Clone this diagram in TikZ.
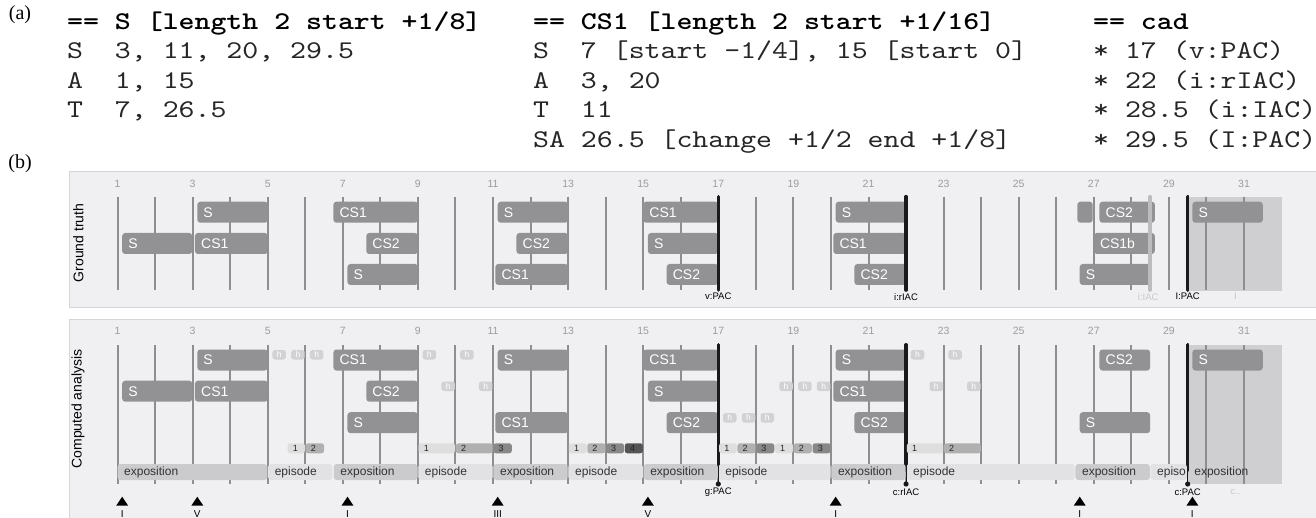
\documentclass[tikz,border=0pt]{standalone}
\usepackage{fontspec}
\setmainfont{Liberation Serif}
\newfontfamily\monof{lmmono10-regular.otf}[FakeStretch=1.19]
\newfontfamily\monob{lmmonolt10-bold.otf}[FakeStretch=1.19]
\newfontfamily\sansf{Liberation Sans}
\definecolor{panelbg}{HTML}{F0F0F2}
\definecolor{panelbd}{HTML}{D6D6D8}
\definecolor{barc}{HTML}{929294}
\definecolor{linec}{HTML}{8E8E90}
\definecolor{numc}{HTML}{9C9C9E}
\definecolor{shadec}{HTML}{CFCFD1}
\definecolor{expoc}{HTML}{CBCBCD}
\definecolor{epic}{HTML}{E2E2E4}
\definecolor{hc}{HTML}{D2D2D4}
\definecolor{nA}{HTML}{DEDEDE}
\definecolor{nB}{HTML}{B0B0B0}
\definecolor{nC}{HTML}{888888}
\definecolor{nD}{HTML}{555555}
\definecolor{cadc}{HTML}{1A1A1A}
\definecolor{lightc}{HTML}{BCBCBC}
\definecolor{faintc}{HTML}{C8C8CA}
\newcommand\mbar[5]{\fill[barc, rounded corners=3pt] (#2,#4-10.5) rectangle (#3,#4+10.5); \node[bartxt] (#1) at (#2,#4) {#5};}
\begin{document}
\begin{tikzpicture}[x=1pt,y=-1pt,
  mono/.style={font=\monof\fontsize{25.5}{28}\selectfont, inner sep=0pt, anchor=base west, text=black!85},
  monobold/.style={font=\monob\fontsize{25.5}{28}\selectfont, inner sep=0pt, anchor=base west},
  paren/.style={font=\fontsize{20}{20}\selectfont, inner sep=0pt},
  panel/.style={draw=panelbd, line width=1pt, fill=panelbg},
  vline/.style={draw=linec, line width=2pt},
  bartxt/.style={anchor=west, xshift=6pt, inner sep=0pt, text=white, font=\sansf\fontsize{14}{14}\selectfont},
  mnum/.style={inner sep=0pt, text=numc, font=\sansf\fontsize{10.5}{10.5}\selectfont},
  cadline/.style={draw=cadc, line width=3.6pt, line cap=round},
  cadlab/.style={inner sep=0pt, font=\sansf\fontsize{9.5}{9.5}\selectfont},
  htxt/.style={inner sep=0pt, text=white, font=\sansf\fontsize{8.5}{8.5}\selectfont},
  ntxt/.style={anchor=west, xshift=5pt, inner sep=0pt, text=black!85, font=\sansf\fontsize{9}{9}\selectfont},
  stxt/.style={anchor=west, xshift=6.5pt, inner sep=0pt, text=black!80, font=\sansf\fontsize{12}{12}\selectfont},
  tlab/.style={inner sep=0pt, font=\sansf\fontsize{10}{10}\selectfont},
  sidelab/.style={inner sep=0pt, rotate=90, font=\sansf\fontsize{14}{14}\selectfont}
]
\useasboundingbox[fill=white] (0,0) rectangle (1316,518);

% (a) text
\node[paren] (la) at (20,15) {(a)};
\node[paren] (lb) at (20,164) {(b)};
\node[monobold] (a1) at (67,29.5) {== S [length 2 start +1/8]};
\node[mono] (a2) at (67,59) {S~~3, 11, 20, 29.5};
\node[mono] (a3) at (67,88.5) {A~~1, 15};
\node[mono] (a4) at (67,118) {T~~7, 26.5};
\node[monobold] (b1) at (533,29.5) {== CS1 [length 2 start +1/16]};
\node[mono] (b2) at (533,59) {S~~7 [start -1/4], 15 [start 0]};
\node[mono] (b3) at (533,88.5) {A~~3, 20};
\node[mono] (b4) at (533,118) {T~~11};
\node[mono] (b5) at (533,147.5) {SA 26.5 [change +1/2 end +1/8]};
\node[monobold] (c1) at (1093,29.5) {== cad};
\node[mono] (c2) at (1093,59) {* 17 (v:PAC)};
\node[mono] (c3) at (1093,88.5) {* 22 (i:rIAC)};
\node[mono] (c4) at (1093,118) {* 28.5 (i:IAC)};
\node[mono] (c5) at (1093,147.5) {* 29.5 (I:PAC)};

% panels
\draw[panel] (69,172) rectangle (1330,308);
\draw[panel] (69,320) rectangle (1330,540);
\node[sidelab] (gt) at (78.3,243) {Ground truth};
\node[sidelab] (ca) at (78,409) {Computed analysis};

\begin{scope}[x=37.55pt, xshift=79.95pt]
% ===== Ground truth =====
\fill[shadec] (29.5,196.7) rectangle (32,291);
\foreach \m in {1,...,31} \draw[vline] (\m,196.7) -- (\m,290);
\foreach \m in {1,3,...,31} \node[mnum] (gm\m) at (\m,183.8) {\m};
\mbar{gS1}{3.125}{5}{212.2}{S}
\mbar{gS2}{1.125}{2.99}{243.5}{S}
\mbar{gC1}{3.0625}{5}{243.5}{CS1}
\mbar{gC2}{6.75}{9}{212.2}{CS1}
\mbar{gC3}{7.625}{9}{243.5}{CS2}
\mbar{gS3}{7.125}{9}{274.5}{S}
\mbar{gS4}{11.125}{13}{212.2}{S}
\mbar{gC4}{11.625}{13}{243.5}{CS2}
\mbar{gC5}{11.0625}{13}{274.5}{CS1}
\mbar{gC6}{15}{17}{212.2}{CS1}
\mbar{gS5}{15.125}{17}{243.5}{S}
\mbar{gC7}{15.625}{17}{274.5}{CS2}
\mbar{gS6}{20.125}{22}{212.2}{S}
\mbar{gC8}{20.0625}{22}{243.5}{CS1}
\mbar{gC9}{20.625}{22}{274.5}{CS2}
\mbar{gB}{26.5625}{26.97}{212.2}{}
\mbar{gC10}{27.15}{28.625}{212.2}{CS2}
\mbar{gC11}{27}{28.625}{243.5}{CS1b}
\mbar{gS7}{26.625}{28.5}{274.5}{S}
\mbar{gS8}{29.625}{31.5}{212.2}{S}
\draw[cadline, draw=lightc] (28.5,196.7) -- (28.5,290);
\draw[cadline] (17,196.7) -- (17,290);
\draw[cadline] (22,196.7) -- (22,290);
\draw[cadline] (29.5,196.7) -- (29.5,290);
\node[cadlab] (gk1) at (17,296.7) {v:PAC};
\node[cadlab] (gk2) at (22,296.7) {i:rIAC};
\node[cadlab, text=faintc] (gk3) at (28.45,296.7) {i:IAC};
\node[cadlab] (gk4) at (29.5,296.7) {I:PAC};
\node[cadlab, text=faintc] (gk5) at (30.77,296.7) {I};

% ===== Computed analysis =====
\fill[shadec] (29.5,345) rectangle (32,484.3);
\foreach \m in {1,...,31} \draw[vline] (\m,345) -- (\m,484.3);
\foreach \m in {1,3,...,31} \node[mnum] (cm\m) at (\m,331) {\m};
\foreach \m in {17,22,29.5} \draw[cadline] (\m,345) -- (\m,470);
\mbar{cS1}{3.125}{5}{360}{S}
\mbar{cS2}{1.125}{2.99}{391.2}{S}
\mbar{cC1}{3.0625}{5}{391.2}{CS1}
\mbar{cC2}{6.75}{9}{360}{CS1}
\mbar{cC3}{7.625}{9}{391.2}{CS2}
\mbar{cS3}{7.125}{9}{422.7}{S}
\mbar{cS4}{11.125}{13}{360}{S}
\mbar{cC4}{11.0625}{13}{422.7}{CS1}
\mbar{cC5}{15}{17}{360}{CS1}
\mbar{cS5}{15.125}{17}{391.2}{S}
\mbar{cC6}{15.625}{17}{422.7}{CS2}
\mbar{cS6}{20.125}{22}{360}{S}
\mbar{cC7}{20.0625}{22}{391.2}{CS1}
\mbar{cC8}{20.625}{22}{422.7}{CS2}
\mbar{cC9}{27.15}{28.5}{360}{CS2}
\mbar{cS7}{26.625}{28.5}{422.7}{S}
\mbar{cS8}{29.625}{31.5}{360}{S}
\foreach \m in {17,22,29.5} \draw[cadline] (\m,345) -- (\m,460);
% h tags
\foreach \m/\r [count=\i] in {5.125/350,5.625/350,6.125/350,9.125/350,10.125/350,22.125/350,23.125/350,
  9.625/381.5,10.625/381.5,18.625/381.5,19.125/381.5,19.625/381.5,22.625/381.5,23.625/381.5,
  17.125/413,17.625/413,18.125/413}
  {\fill[hc, rounded corners=2.5pt] (\m,\r) rectangle ++(0.36,9.5);
   \node[htxt] (h\i) at (\m+0.18,\r+4.75) {h};}
% number bars
\foreach \a/\b/\c/\t [count=\i] in {5.53/5.99/nA/1,6.01/6.5/nB/2,
  9.02/9.99/nA/1,10.01/10.99/nB/2,11.01/11.5/nC/3,
  13.02/13.49/nA/1,13.51/13.99/nB/2,14.01/14.49/nC/3,14.51/14.99/nD/4,
  17.02/17.49/nA/1,17.51/17.99/nB/2,18.01/18.49/nC/3,18.51/18.99/nA/1,19.01/19.49/nB/2,19.51/19.99/nC/3,
  22.02/22.99/nA/1,23.01/23.99/nB/2}
  {\fill[\c, rounded corners=2.5pt] (\a,443.3) rectangle (\b,453.3);
   \node[ntxt] (nb\i) at (\a,448.3) {\t};}
% section bars
\foreach \a/\b/\c/\t [count=\i] in {1/4.99/expoc/exposition,5.01/6.72/epic/episode,
  6.76/8.99/expoc/exposition,9.01/10.99/epic/episode,11.01/12.99/expoc/exposition,
  13.01/14.99/epic/episode,15.01/16.99/expoc/exposition,17.01/19.99/epic/episode,
  20.01/21.99/expoc/exposition,22.01/26.49/epic/episode,26.51/28.49/expoc/exposition}
  {\fill[\c, rounded corners=3pt] (\a,464) rectangle (\b,480);
   \node[stxt] (sb\i) at (\a,472) {\t};}
\fill[epic, rounded corners=3pt] (28.51,464) rectangle (29.48,480);
\begin{scope}
\clip (28.5,460) rectangle (29.45,484);
\node[stxt] (sb12) at (28.51,472) {episode};
\end{scope}
\node[stxt] (sb13) at (29.5,472) {exposition};
% cadence lower parts
\foreach \m in {17,22,29.5} {\draw[cadc, line width=1.1pt] (\m,460) -- (\m,484); \fill[cadc] (\m,484) circle (2.6pt);}
\node[cadlab] (ck1) at (17,492) {g:PAC};
\node[cadlab] (ck2) at (22,492) {c:rIAC};
\node[cadlab] (ck3) at (29.5,492) {c:PAC};
\node[cadlab, text=faintc] (ck4) at (30.77,492) {c..};
% triangles
\foreach \m/\t [count=\i] in {1.125/I,3.125/V,7.125/I,11.125/III,15.125/V,20.125/I,26.625/I,29.625/I}
  {\fill[black] (\m-0.16,505.7) -- (\m,496.7) -- (\m+0.16,505.7) -- cycle;
   \node[tlab] (tl\i) at (\m,513.8) {\t};}
\end{scope}
\end{tikzpicture}
\end{document}
